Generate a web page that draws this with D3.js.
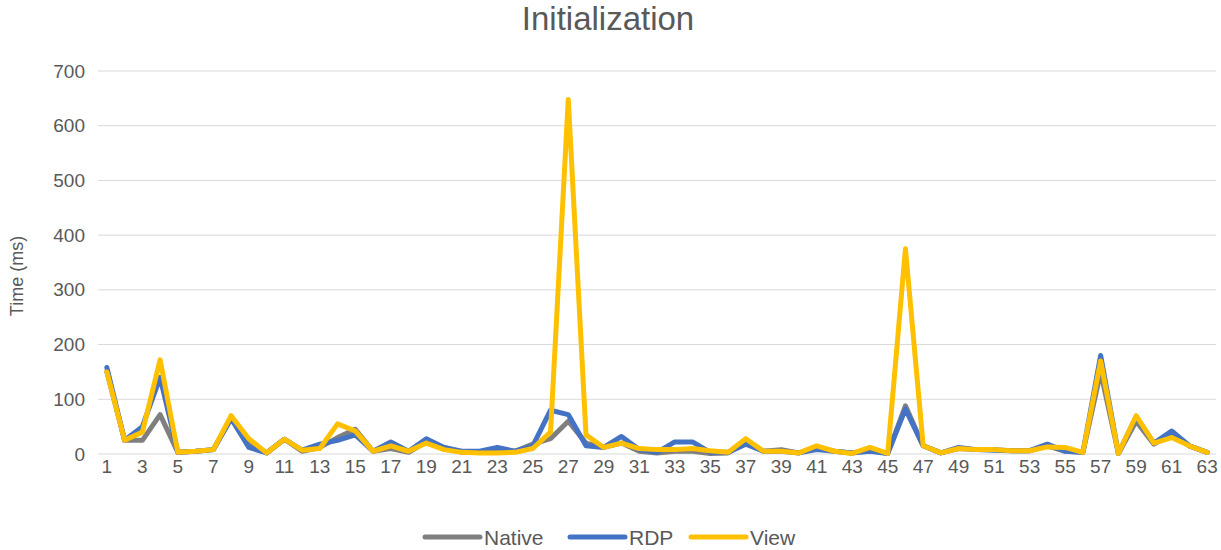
<!DOCTYPE html>
<html>
<head>
<meta charset="utf-8">
<script src="https://cdn.jsdelivr.net/npm/d3@7"></script>
<style>
  body { margin: 0; background: #fff; }
  svg text { font-family: "Liberation Sans", Arial, sans-serif; fill: #595959; }
</style>
</head>
<body>
<div id="chart"></div>
<script>
// values, index 1..63
const native = [150,25,25,72,3,5,8,65,20,2,27,5,12,30,45,5,10,3,22,12,3,3,5,5,18,28,60,20,12,20,5,2,5,5,1,2,22,5,8,2,12,5,2,8,1,88,15,2,10,8,8,6,6,15,5,3,150,1,60,18,35,15,3];
const rdp    = [158,25,50,140,3,5,8,65,12,2,27,7,18,25,35,5,22,5,28,12,5,5,12,5,15,80,72,15,12,32,8,3,22,22,3,3,18,5,5,2,8,5,2,5,1,82,15,2,12,8,7,6,6,18,5,3,180,1,68,20,42,15,3];
const view   = [150,25,40,172,3,5,8,70,28,2,27,7,10,55,42,5,15,5,20,8,3,2,2,3,10,40,648,35,12,20,10,8,8,10,6,3,28,5,5,2,15,5,1,12,1,375,15,2,10,8,8,6,6,13,12,3,170,1,70,20,30,15,3];
const seriesNames = ["Native", "RDP", "View"];
const seriesColors = ["#7f7f7f", "#4472c4", "#ffc000"];
const yTicks = [0,100,200,300,400,500,600,700];

const categories = d3.range(1, 64);
const allSeries = [native, rdp, view];

const W = 1221, H = 550;
const margin = { top: 71, right: 5, bottom: 96, left: 98 };

const svg = d3.select("#chart").append("svg")
    .attr("width", W)
    .attr("height", H);

const x = d3.scaleBand().domain(categories).range([margin.left, 1216]);
const y = d3.scaleLinear().domain([0, 700]).range([454, 71]);

// gridlines
svg.append("g")
    .selectAll("line")
    .data(yTicks)
    .enter().append("line")
    .attr("x1", margin.left)
    .attr("x2", 1216)
    .attr("y1", d => y(d))
    .attr("y2", d => y(d))
    .attr("stroke", "#d9d9d9")
    .attr("stroke-width", 1);

// y axis labels
const yAxis = svg.append("g")
    .attr("transform", `translate(${margin.left},0)`)
    .call(d3.axisLeft(y).tickValues(yTicks).tickSize(0).tickPadding(13));
yAxis.select(".domain").remove();
yAxis.selectAll("text").style("font-size", "19px").attr("fill", "#595959");

// x axis labels, every other category
const xAxis = svg.append("g")
    .attr("transform", `translate(0,${y(0)})`)
    .call(d3.axisBottom(x).tickValues(categories.filter(d => d % 2 === 1)).tickSize(0).tickPadding(6));
xAxis.select(".domain").remove();
xAxis.selectAll("text").style("font-size", "19px").attr("fill", "#595959");

const line = d3.line()
    .x((d, i) => x(categories[i]) + x.bandwidth() / 2)
    .y(d => y(d));

allSeries.forEach((s, k) => {
    svg.append("path")
        .datum(s)
        .attr("fill", "none")
        .attr("stroke", seriesColors[k])
        .attr("stroke-width", 5)
        .attr("stroke-linejoin", "round")
        .attr("stroke-linecap", "round")
        .attr("d", line);
});

// title
svg.append("text")
    .attr("x", 608)
    .attr("y", 30)
    .attr("text-anchor", "middle")
    .style("font-size", "33px")
    .text("Initialization");

// y label
svg.append("text")
    .attr("transform", "translate(23,276) rotate(-90)")
    .attr("text-anchor", "middle")
    .style("font-size", "18px")
    .text("Time (ms)");

// legend
const legendX = [425, 570, 691];
const legend = svg.append("g");
seriesNames.forEach((name, k) => {
    legend.append("line")
        .attr("x1", legendX[k]).attr("x2", legendX[k] + 55)
        .attr("y1", 537).attr("y2", 537)
        .attr("stroke", seriesColors[k])
        .attr("stroke-width", 5)
        .attr("stroke-linecap", "round");
    legend.append("text")
        .attr("x", legendX[k] + 59)
        .attr("y", 545)
        .style("font-size", "21px")
        .text(name);
});
</script>
</body>
</html>
